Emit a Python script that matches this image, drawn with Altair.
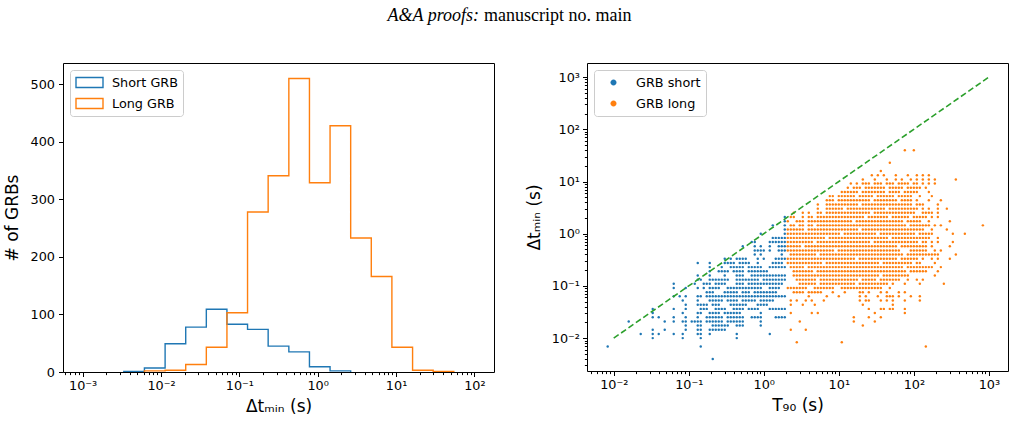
import altair as alt
import pandas as pd

BLUE = "#1f77b4"
ORANGE = "#ff7f0e"
GREEN = "#2ca02c"
FONT = "DejaVu Sans"

# ---------------- left panel: histogram of minimum variability timescale ----------------
BIN_EDGES_LOG = [-3.0, -2.737, -2.474, -2.211, -1.947, -1.684, -1.421, -1.158, -0.895, -0.632,
                 -0.368, -0.105, 0.158, 0.421, 0.684, 0.947, 1.211, 1.474, 1.737, 2.0]
SHORT_COUNTS = [0, 0, 1, 7, 49, 78, 109, 83, 74, 45, 35, 9, 2, 0, 0, 0, 0, 0, 0]
LONG_COUNTS = [0, 0, 0, 2, 3, 13, 43, 103, 278, 341, 510, 329, 428, 233, 166, 43, 3, 1, 0]
HIST_SERIES = ["Short GRB", "Long GRB"]

# ---------------- right panel: scatter, transcribed row by row ----------------
# each row: (row index k -> log10 dt = k*ROW_STEP, occupied columns j -> log10 T90 = COL_ORIGIN + j*COL_STEP)
ROW_STEP = 0.08
COL_STEP = 0.04
COL_ORIGIN = -2.2

SHORT_ROWS = [
    (4, "62"), (3, "62"), (2, "58,62"), (1, "62"), (0, "54,62"),
    (-1, "58-62"), (-2, "51-52,57-62"), (-3, "48,52,54,57,60-62"),
    (-4, "52-55,57,60-62"), (-5, "52,54,61"),
    (-6, "42,44,46-49,53,55,59-62"), (-7, "33,37,42-45,47-50,53,58-61"),
    (-8, "37,41,44-48,50-54,57-62"), (-9, "37,40-43,45-48,50-56"),
    (-10, "33,37,42,46-48,51-62"), (-11, "33-34,37-43,46-53,55-62"),
    (-12, "25,32,35-37,39-42,46-48,50-61"), (-13, "25,29,33,35,37-40,43-54,57-60"),
    (-14, "36-38,42-46,48-50,52-59"), (-15, "25,27,29,33-34,36-43,44-49,50-62"),
    (-16, "28,33,37-41,43-46,48-52,54-58"), (-17, "29,33-36,38-40,44-49,53-56"),
    (-18, "18,25,29,34-36,39-42,45-48,50-53,57-62"), (-19, "18,28,33-34,37-40,42-47,54"),
    (-20, "18,20,25,29,33,36-41,43-48,51-54,59-62"), (-21, "10,22,25,28-29,31-34,36-41,43-48,54"),
    (-22, "29,33-34,38-43,46-48,54"), (-23, "18,22,29,33-34,37-42"),
    (-24, "14,18,20,25,28,33-34,37,46,57"), (-25, "18,28,34,46"),
    (-27, "3,34"), (-30, "38"),
]

LONG_ROWS = [
    (20, "102,105"), (17, "97"), (15, "94"),
    (14, "91,93,95,99,103,106,108,110"),
    (13, "88,92,96,99,101,104,106,108,110,112,119"),
    (12, "84,86,88-90,92-94,96-98,100-103,105-106,108,110,112"),
    (11, "83,85-87,89-95,97-101,103-107,109"),
    (10, "81-86,88-95,97-100,102-106,110"),
    (9, "77-78,80-85,87-91,93-98,100-104,107,111"),
    (8, "76-78,80-90,92-99,101-104,106,110,114"),
    (7, "73,76-86,88-104,106-108,113"),
    (6, "73,76-81,83-95,97-106,108,110,113,116"),
    (5, "65,68,70,73-74,76-90,92-105,108-111,113"),
    (4, "64-65,68,70-71,73-88,90-96,98-103,105-109,111,113"),
    (3, "63,66-68,70-84,86-101,103-107,110,117"),
    (2, "64-65,67-68,70-71,73-102,104-110,112,114,128"),
    (1, "63-68,70-86,88-108,111,116"),
    (0, "63-80,82-92,94-105,107-111,118,122"),
    (-1, "63-75,77-96,98-110,113"),
    (-2, "63-71,73-90,92-106,108-109,111,113,118"),
    (-3, "63-67,69-99,101-109,111,117"),
    (-4, "63-78,80-100,104-109,112,114"),
    (-5, "64-72,74-101,103-113,119"),
    (-6, "63-85,87-99,101-106,108,111,113,117"),
    (-7, "63-74,76-93,95-104,106-107,112"),
    (-8, "64-68,70-101,103-111,114"),
    (-9, "65-71,73-102,104-109,113"),
    (-10, "65-93,95-103,112"),
    (-11, "66-72,74-86,88-92,94-100,103,106,108"),
    (-12, "67-72,74-85,87-96,98,102,107,115"),
    (-13, "63-69,72-78,81-94,97"),
    (-14, "65-68,70-74,78,82,87-88,90,94,96,100,102"),
    (-15, "70,76,80,87,89,93,96-98,100,104,107"),
    (-16, "64,66,69,71,75,87,89-90,94,96,98,102,107"),
    (-17, "64,68,72,88,98"),
    (-18, "90,94-95,97-98,102"),
    (-19, "64,71,73,92,102"),
    (-20, "85,90,94"),
    (-21, "67,85,92"),
    (-22, "88"),
    (-23, "64,69"),
    (-26, "66,81"),
    (-27, "109"),
]
SCATTER_SERIES = ["GRB short", "GRB long"]

LINE_T90 = [0.01, 1000.0]
LINE_DT = [0.01, 1000.0]

# axis ranges
LEFT_X_DOMAIN = [10 ** -3.25, 10 ** 2.25]
LEFT_Y_DOMAIN = [0, 537]
LEFT_Y_TICKS = [0, 100, 200, 300, 400, 500]
RIGHT_X_DOMAIN = [10 ** -2.356, 10 ** 3.255]
RIGHT_Y_DOMAIN = [10 ** -2.63, 10 ** 3.27]
DECADES = [-4, -3, -2, -1, 0, 1, 2, 3]
MINOR_MULT = [1, 2, 3, 4, 5, 6, 7, 8, 9]


def cells(spec):
    out = []
    for part in spec.split(","):
        if "-" in part:
            a, b = part.split("-")
            out.extend(range(int(a), int(b) + 1))
        else:
            out.append(int(part))
    return out


def step_rows(name, counts):
    nz = [i for i, c in enumerate(counts) if c > 0]
    first, last = nz[0], nz[-1]
    rows = [(10 ** BIN_EDGES_LOG[first], 0)]
    for i in range(first, last + 1):
        rows.append((10 ** BIN_EDGES_LOG[i], counts[i]))
        rows.append((10 ** BIN_EDGES_LOG[i + 1], counts[i]))
    rows.append((10 ** BIN_EDGES_LOG[last + 1], 0))
    return [{"x": x, "y": y, "series": name, "i": n} for n, (x, y) in enumerate(rows)]


hist_df = pd.DataFrame(step_rows(HIST_SERIES[0], SHORT_COUNTS) + step_rows(HIST_SERIES[1], LONG_COUNTS))

pts = []
for name, rowset in ((SCATTER_SERIES[0], SHORT_ROWS), (SCATTER_SERIES[1], LONG_ROWS)):
    for k, spec in rowset:
        for j in cells(spec):
            pts.append({"t90": 10 ** (COL_ORIGIN + COL_STEP * j), "dt": 10 ** (ROW_STEP * k), "cls": name})
scatter_df = pd.DataFrame(pts)
line_df = pd.DataFrame({"t90": LINE_T90, "dt": LINE_DT})


def log_ticks(domain):
    lo, hi = domain
    return [m * 10.0 ** d for d in DECADES for m in MINOR_MULT if lo <= m * 10.0 ** d <= hi]


LOGV = "(log(datum.value)/LN10)"
MAJOR = "abs(" + LOGV + " - round(" + LOGV + ")) < 0.001"
LOG_LABEL = ("(" + MAJOR + ") ? ('10' + (round(" + LOGV + ") < 0 ? '⁻' : '') + "
             "['⁰','¹','²','³','⁴','⁵'][abs(round(" + LOGV + "))]) : ''")
TICK_SIZE = {"condition": {"test": MAJOR, "value": 4.5}, "value": 2.6}

common_axis = dict(
    domain=False, grid=False, tickColor="black", tickWidth=1,
    labelFont=FONT, labelFontSize=12.8, labelColor="black", labelOverlap=False,
    titleFont=FONT, titleFontSize=17, titleFontWeight="normal", titleColor="black",
)


def log_axis(title, domain, **kw):
    return alt.Axis(title=title, values=log_ticks(domain), labelExpr=LOG_LABEL,
                    tickSize=TICK_SIZE, labelFlush=False, **common_axis, **kw)


RECT_PATH = "M-1,-0.37H1V0.37H-1Z"
CIRCLE_PATH = "M-0.222,0A0.222,0.222 0 1,0 0.222,0A0.222,0.222 0 1,0 -0.222,0Z"

legend_common = dict(
    title=None, orient="top-left", offset=7, padding=5,
    fillColor="rgba(255,255,255,0.8)", strokeColor="#cccccc", cornerRadius=3,
    symbolSize=729, labelFont=FONT, labelFontSize=12.8, labelColor="black",
    labelOffset=8, rowPadding=6, clipHeight=15,
)

x_left = alt.X("x:Q", scale=alt.Scale(type="log", domain=LEFT_X_DOMAIN, nice=False),
               axis=log_axis("Δtₘᵢₙ (s)", LEFT_X_DOMAIN, labelPadding=3, titlePadding=6))
y_left = alt.Y("y:Q", scale=alt.Scale(domain=LEFT_Y_DOMAIN, nice=False),
               axis=alt.Axis(title="# of GRBs", values=LEFT_Y_TICKS, tickSize=4.5,
                             labelPadding=4, titlePadding=9, **common_axis))

hist = alt.Chart(hist_df).mark_line(strokeWidth=1.4, clip=True).encode(
    x=x_left, y=y_left,
    color=alt.Color("series:N", scale=alt.Scale(domain=HIST_SERIES, range=[BLUE, ORANGE]),
                    legend=alt.Legend(symbolType=RECT_PATH, symbolStrokeWidth=1.4,
                                      symbolFillColor="transparent", **legend_common)),
    order="i:Q",
)

hdr = alt.Data(values=[{"h": 1}])
head_it = alt.Chart(hdr).mark_text(font="Liberation Serif", fontSize=18, fontStyle="italic",
                                   align="right", baseline="alphabetic", color="black").encode(
    x=alt.value(416), y=alt.value(-42), text=alt.value("A&A proofs:"))
head_rm = alt.Chart(hdr).mark_text(font="Liberation Serif", fontSize=18,
                                   align="left", baseline="alphabetic", color="black").encode(
    x=alt.value(421), y=alt.value(-42), text=alt.value("manuscript no. main"))

left = alt.layer(hist, head_it, head_rm).properties(width=431, height=309)

x_right_axis = log_axis("T₉₀ (s)", RIGHT_X_DOMAIN, labelPadding=3, titlePadding=6)
y_right_axis = log_axis("Δtₘᵢₙ (s)", RIGHT_Y_DOMAIN, labelPadding=3, titlePadding=8)
x_right_scale = alt.Scale(type="log", domain=RIGHT_X_DOMAIN, nice=False)
y_right_scale = alt.Scale(type="log", domain=RIGHT_Y_DOMAIN, nice=False)

points = alt.Chart(scatter_df).mark_circle(size=6, opacity=1).encode(
    x=alt.X("t90:Q", scale=x_right_scale, axis=x_right_axis),
    y=alt.Y("dt:Q", scale=y_right_scale, axis=y_right_axis),
    color=alt.Color("cls:N", scale=alt.Scale(domain=SCATTER_SERIES, range=[BLUE, ORANGE]),
                    legend=alt.Legend(symbolType=CIRCLE_PATH, symbolOpacity=1, **legend_common)),
)
diag = alt.Chart(line_df).mark_line(color=GREEN, strokeWidth=1.6, strokeDash=[6, 3]).encode(
    x=alt.X("t90:Q", scale=x_right_scale, axis=x_right_axis),
    y=alt.Y("dt:Q", scale=y_right_scale, axis=y_right_axis),
)
right = alt.layer(points, diag).properties(width=421, height=308)

chart = (
    alt.hconcat(left, right, spacing=93, bounds="flush")
    .resolve_scale(color="independent")
    .properties(padding={"left": 2, "top": 6, "right": 0, "bottom": 0}, background="white")
    .configure_view(stroke="black", strokeWidth=1)
)

chart.save("out.html", embed_options={"renderer": "svg", "actions": False})
